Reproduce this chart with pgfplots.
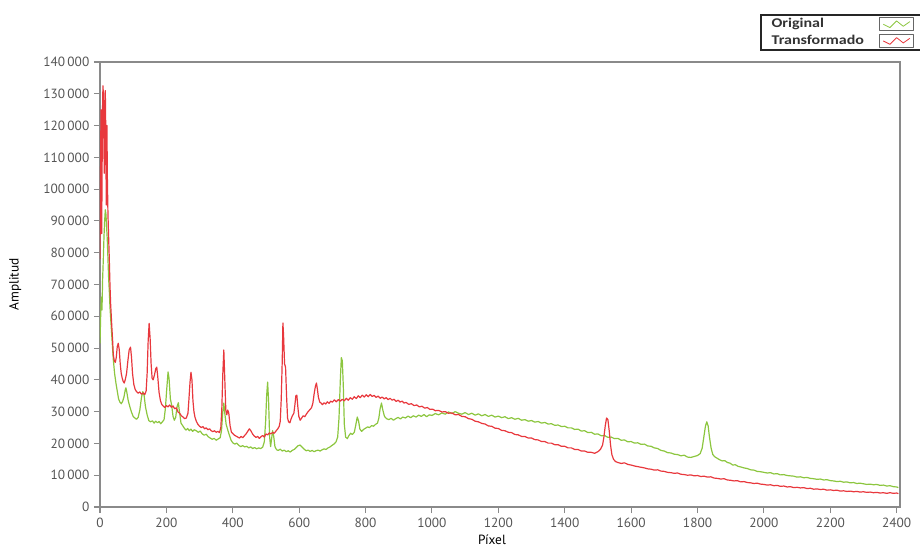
\documentclass[border=0pt]{standalone}
\usepackage{fontspec}
\setmainfont{PT Sans}
\newfontfamily\legendfont{Carlito}[FakeStretch=1.2]
\usepackage{pgfplots}
\pgfplotsset{compat=1.18}

\definecolor{origgreen}{HTML}{8CC63F}
\definecolor{transred}{HTML}{E8383D}
\definecolor{axisgray}{HTML}{8A8A8A}
\definecolor{labelgray}{HTML}{555555}

% Spectrum of the original image (amplitude per pixel)
\pgfplotstableread{
x y
0 51500
2 60000
4 66000
6 62000
8 72000
10 78000
12 85000
14 90000
16 93500
18 92000
20 88000
22 84000
24 78000
26 72000
28 68000
30 63000
33 58000
36 53000
40 46500
44 42000
48 39000
52 36500
56 34000
60 33000
64 32500
68 33200
72 34500
76 36800
78 37500
81 36000
85 33500
90 31500
95 29800
100 28500
105 28000
110 27600
115 28200
120 30500
125 34500
129 36300
133 35000
137 31500
142 29000
147 27200
152 26800
158 27100
163 26400
168 27000
173 26500
178 26900
183 26200
188 26800
193 27500
197 31000
201 37000
205 42500
208 40500
212 34000
216 32000
220 28500
224 27300
228 28200
232 31500
236 32800
240 29500
244 26400
249 25600
254 24800
259 24200
264 24700
269 24000
274 24500
279 23800
284 24300
290 24000
296 23500
302 23900
308 23000
314 22600
320 22900
326 22100
332 21700
338 21300
344 21600
350 21000
356 21400
362 21800
366 24000
370 30000
373 32700
376 29500
380 26000
385 24200
390 22500
395 21000
400 20200
406 19800
412 20100
418 19400
424 19000
430 19300
436 18900
442 19100
448 18600
454 18900
460 18400
466 18700
472 18300
478 18600
484 18400
490 18800
495 20500
499 27000
502 35000
505 39300
508 33000
511 22000
514 19000
517 21500
520 24000
523 22500
527 19000
532 18000
537 17800
543 18200
549 17600
555 17900
561 17400
567 17700
573 17300
579 17800
585 18100
591 18700
597 19300
603 19500
609 18800
615 18200
621 17700
627 17900
633 17500
639 17800
645 17400
651 17700
657 17900
663 17600
669 18000
675 18300
681 18100
687 18600
693 18900
699 19400
705 19800
711 20500
716 22000
720 28000
724 40000
727 47000
730 46000
733 38000
736 26000
740 22000
745 21500
750 22500
755 23200
760 22800
766 23500
770 25500
775 28300
779 27000
783 24500
788 23800
794 24400
800 24800
806 25200
812 25000
818 25600
824 25400
830 26000
836 26400
840 28000
844 31000
848 32700
852 30500
857 28500
863 27800
870 27500
877 27900
884 27300
891 27800
898 28200
905 27700
912 28300
920 28000
928 28600
936 28100
944 28700
952 28300
960 28900
968 28500
976 29100
984 28400
992 29000
1000 28800
1010 29400
1020 29000
1030 29600
1040 29200
1050 29900
1060 29400
1070 30000
1080 29500
1090 29200
1100 29700
1110 29100
1120 29500
1130 28900
1140 29300
1150 28700
1160 29100
1170 28500
1180 28900
1190 28300
1200 28600
1210 28100
1220 28400
1230 27800
1240 28100
1250 27600
1260 27900
1270 27300
1280 27500
1290 27000
1300 27200
1310 26700
1320 26900
1330 26400
1340 26600
1350 26100
1360 26200
1370 25700
1380 25800
1390 25300
1400 25400
1410 24900
1420 24900
1430 24400
1440 24500
1450 23900
1460 24000
1470 23400
1480 23500
1490 22900
1500 23000
1510 22400
1520 22500
1530 21900
1540 22000
1550 21500
1560 21600
1570 21000
1580 21100
1590 20500
1600 20600
1610 20100
1620 20200
1630 19700
1640 19800
1650 19200
1660 19100
1670 18600
1680 18400
1690 17800
1700 17600
1710 17100
1720 17000
1730 16600
1740 16500
1750 16100
1760 16300
1770 15700
1780 15600
1790 15900
1800 16200
1808 16800
1814 18500
1819 22000
1824 25500
1828 26800
1832 25500
1836 22000
1841 18500
1846 16500
1852 15800
1858 15400
1866 14900
1874 14500
1882 14600
1890 14000
1898 13800
1906 13200
1914 13300
1922 12800
1930 12600
1940 12300
1950 12100
1960 11700
1970 11600
1980 11200
1990 11100
2000 10900
2010 10700
2020 10800
2030 10400
2040 10500
2050 10100
2060 10200
2070 9900
2080 9800
2090 9700
2100 9400
2110 9500
2120 9200
2130 9300
2140 9000
2150 8900
2160 8700
2170 8800
2180 8500
2190 8600
2200 8300
2210 8200
2220 8000
2230 8100
2240 7800
2250 7900
2260 7600
2270 7700
2280 7400
2290 7500
2300 7300
2310 7100
2320 7200
2330 7000
2340 7100
2350 6800
2360 6900
2370 6600
2380 6700
2390 6400
2400 6300
2405 6100
}\original

% Spectrum of the transformed image
\pgfplotstableread{
x y
0 78000
1 95000
2 110000
3 125000
4 105000
5 86000
6 100000
7 118000
8 128000
9 132500
10 130000
11 122000
12 112000
13 105000
14 115000
15 130000
16 131000
17 122000
18 108000
19 95000
20 118000
21 120000
22 105000
24 92000
26 85000
28 78000
30 70000
32 64000
34 60000
36 56000
38 52500
40 48000
43 46000
46 45500
49 47000
52 50500
55 51500
58 49500
61 45000
64 42000
67 40500
70 39500
73 39000
76 40000
80 42000
84 46000
88 49500
92 50300
95 47000
98 42000
102 38500
106 37000
110 36300
115 35800
120 36200
125 35500
130 35900
135 35400
139 36500
142 42000
145 52000
148 57800
151 53000
154 45000
157 40500
160 40000
164 41500
168 43500
171 44000
174 41000
178 36000
182 33500
186 32300
190 31800
195 31300
200 31900
205 31500
210 32100
215 31400
220 31800
225 30900
230 31200
235 29900
240 29500
245 28700
250 28300
255 27800
260 28000
265 29500
268 34000
271 39000
274 42400
277 40000
280 33500
283 30000
286 28300
290 27000
295 26000
300 25400
305 25000
310 25300
315 24600
320 24900
325 24300
330 24600
335 24000
340 23700
345 24000
350 23500
355 23800
360 23400
364 25000
367 31000
370 42000
373 49400
376 40000
379 30500
382 29000
385 30500
388 29500
392 25500
396 23500
400 23100
405 22600
410 22300
415 22000
420 21700
425 22200
430 21800
435 22400
440 23000
445 23800
450 24600
455 23900
460 22900
465 22300
470 21900
475 22200
480 21600
485 22100
490 22500
495 22000
500 23000
505 22700
510 23300
515 23000
520 23500
525 23200
530 23900
535 24500
540 25400
543 27000
546 34000
549 46000
551 57900
553 54000
556 45000
559 44000
562 35000
565 28000
568 26800
572 26500
576 27800
580 28800
584 29500
587 32000
590 35000
593 35200
596 31500
599 28500
603 27300
607 27900
612 28700
617 28400
622 29300
627 30000
632 30600
637 31200
641 32500
645 35500
649 38000
652 39000
655 37000
658 34500
662 33000
666 32700
670 32200
675 32800
680 32400
685 33100
690 32600
695 33300
700 33000
706 33700
712 33100
718 33800
724 33300
730 33900
736 33400
742 34200
748 33600
754 34400
760 33900
766 34700
772 34100
778 35000
784 34400
790 35200
796 34600
802 35300
808 34700
814 35400
820 34800
826 35100
832 34500
838 34900
844 34200
850 34600
856 34000
862 34400
868 33800
874 34200
880 33600
886 33900
892 33200
898 33600
904 33000
910 33300
916 32700
922 32900
930 32300
938 32500
946 31900
954 32100
962 31500
970 31700
978 31100
986 31300
994 30700
1002 30800
1010 30300
1020 30400
1030 29900
1040 30000
1050 29500
1060 29600
1070 29000
1080 29100
1090 28500
1100 28400
1110 27800
1120 27600
1130 27000
1140 26800
1150 26300
1160 26100
1170 25500
1180 25400
1190 24800
1200 24700
1210 24100
1220 24000
1230 23500
1240 23400
1250 22800
1260 22700
1270 22200
1280 22200
1290 21700
1300 21700
1310 21200
1320 21100
1330 20600
1340 20600
1350 20100
1360 20100
1370 19600
1380 19600
1390 19100
1400 19100
1410 18600
1420 18600
1430 18100
1440 18100
1450 17600
1460 17600
1470 17200
1480 17200
1490 16900
1500 17400
1508 18200
1514 19500
1518 22000
1522 25500
1526 28000
1530 27500
1534 24000
1538 19500
1542 16500
1547 15000
1553 14300
1560 14000
1570 13700
1580 13900
1590 13400
1600 13200
1610 12900
1620 12700
1630 12500
1640 12300
1650 12000
1660 11900
1670 11600
1680 11700
1690 11300
1700 11200
1710 10900
1720 10800
1730 10600
1740 10700
1750 10300
1760 10200
1770 10000
1780 10100
1790 9800
1800 9900
1810 9600
1820 9700
1830 9400
1840 9500
1850 9100
1860 9000
1870 8800
1880 8900
1890 8500
1900 8400
1910 8200
1920 8300
1930 7900
1940 8000
1950 7700
1960 7600
1970 7400
1980 7500
1990 7200
2000 7100
2010 6900
2020 7000
2030 6700
2040 6800
2050 6500
2060 6600
2070 6300
2080 6400
2090 6100
2100 6200
2110 6000
2120 6100
2130 5800
2140 5900
2150 5600
2160 5700
2170 5500
2180 5600
2190 5300
2200 5400
2210 5200
2220 5300
2230 5000
2240 5100
2250 4900
2260 5000
2270 4800
2280 4900
2290 4700
2300 4800
2310 4600
2320 4700
2330 4500
2340 4600
2350 4400
2360 4500
2370 4300
2380 4500
2390 4300
2400 4400
2405 4200
}\transformed

\begin{document}
\begin{tikzpicture}
\begin{axis}[
  scale only axis,
  width=600pt, height=333.75pt,
  xmin=0, xmax=2410, ymin=0, ymax=140000,
  xtick={0,200,...,2400},
  xticklabels={0,200,400,600,800,1000,1200,1400,1600,1800,2000,2200,2400},
  ytick={0,10000,...,140000},
  yticklabels={0,10\,000,20\,000,30\,000,40\,000,50\,000,60\,000,70\,000,80\,000,90\,000,100\,000,110\,000,120\,000,130\,000,140\,000},
  scaled y ticks=false,
  tick align=outside,
  xtick pos=bottom, ytick pos=left,
  major tick length=4.5pt,
  tick style={axisgray, line width=0.8pt},
  axis line style={axisgray, line width=1.2pt},
  ticklabel style={font=\fontsize{10}{12}\selectfont, text=labelgray},
  xlabel={Píxel}, ylabel={Amplitud},
  label style={font=\fontsize{10}{12}\selectfont, text=labelgray},
  every axis x label/.style={at={(axis description cs:0.49,0)}, yshift=-24.5pt, anchor=center},
  every axis y label/.style={at={(axis description cs:-0.106,0.5)}, rotate=90, anchor=center},
  legend plot pos=right,
  legend style={at={(axis description cs:0.825,1.108)}, anchor=north west,
    draw=black!85, line width=1.5pt, fill=white,
    font=\legendfont\bfseries\fontsize{10}{11}\selectfont, text=black!80,
    inner xsep=6pt, inner ysep=1pt, row sep=0.5pt, column sep=9pt,
    nodes={text height=7pt, text depth=2pt, inner ysep=1.5pt},
    cells={anchor=west}},
  legend image code/.code={
    \draw[black!60, line width=0.8pt, fill=white] (0pt,-4.8pt) rectangle (25.5pt,4.8pt);
    \draw[#1, line width=0.6pt] (3pt,0pt) -- (8pt,-2.5pt) -- (13pt,2.5pt) -- (18pt,-1.5pt) -- (23pt,2pt);
  },
]
\addplot[origgreen, line width=0.9pt, line join=round] table[x=x, y=y] {\original};
\addlegendentry{Original}
\addplot[transred, line width=0.9pt, line join=round] table[x=x, y=y] {\transformed};
\addlegendentry{Transformado}
\coordinate (bl) at (rel axis cs:0,0);
\coordinate (tr) at (rel axis cs:1,1);
\end{axis}
\pgfresetboundingbox
\path ([shift={(-75pt,-30pt)}]bl) rectangle ([shift={(15pt,46.5pt)}]tr);
\end{tikzpicture}
\end{document}
